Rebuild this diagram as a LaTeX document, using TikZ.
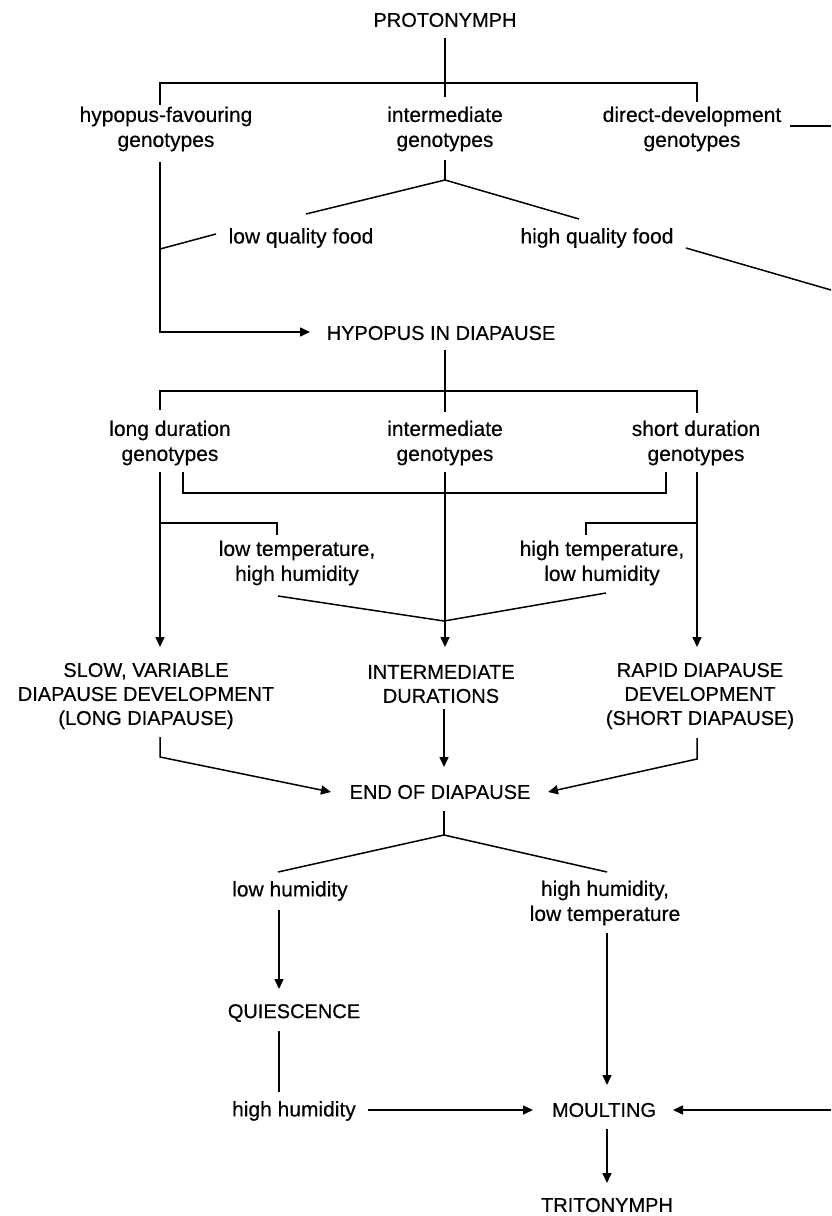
\documentclass[tikz,border=0pt]{standalone}
\usepackage{fontspec}
\setmainfont{Liberation Sans}[FakeBold=0.4]
\usetikzlibrary{arrows.meta}
\begin{document}
\begin{tikzpicture}[x=1pt,y=-1pt,
  line width=1.5pt,
  lbl/.style={inner sep=0pt, align=center, font=\fontsize{21}{25}\selectfont},
  ttl/.style={inner sep=0pt, align=center, font=\fontsize{20}{24}\selectfont},
  arr/.style={-{Triangle[length=10pt,width=9pt]}}
]
\useasboundingbox[fill=white] (0,0) rectangle (831,1216);

% nodes
\node[ttl] (proto) at (445,20) {PROTONYMPH};
\node[lbl] (hyp) at (166,129) {hypopus-favouring\\genotypes};
\node[lbl] (intg) at (445,129) {intermediate\\genotypes};
\node[lbl] (dir) at (692,129) {direct-development\\genotypes};
\node[lbl] (lqf) at (301,238) {low quality food};
\node[lbl] (hqf) at (597,238) {high quality food};
\node[ttl] (hyd) at (441,333) {HYPOPUS IN DIAPAUSE};
\node[lbl] (longd) at (170,443) {long duration\\genotypes};
\node[lbl] (intg2) at (445,443) {intermediate\\genotypes};
\node[lbl] (shortd) at (696,443) {short duration\\genotypes};
\node[lbl] (ltemp) at (297,563) {low temperature,\\high humidity};
\node[lbl] (htemp) at (602,563) {high temperature,\\low humidity};
\node[ttl] (slow) at (146,696) {SLOW, VARIABLE\\DIAPAUSE DEVELOPMENT\\(LONG DIAPAUSE)};
\node[ttl] (intdur) at (441,684) {INTERMEDIATE\\DURATIONS};
\node[ttl] (rapid) at (700,696) {RAPID DIAPAUSE\\DEVELOPMENT\\(SHORT DIAPAUSE)};
\node[ttl] (endd) at (440,792) {END OF DIAPAUSE};
\node[lbl] (lowhum) at (290,891) {low humidity};
\node[lbl] (hhlt) at (605,903) {high humidity,\\low temperature};
\node[ttl] (quies) at (294,1013) {QUIESCENCE};
\node[lbl] (hh) at (294,1111) {high humidity};
\node[ttl] (moult) at (604,1110) {MOULTING};
\node[ttl] (trito) at (607,1205) {TRITONYMPH};

% junction / edge coordinates
\coordinate (j1) at (445,180);
\coordinate (j2) at (444,621);
\coordinate (j3) at (444,835);
\coordinate (edgeA) at (831,126);
\coordinate (edgeB) at (831,290);
\coordinate (edgeC) at (831,1110);

% top split
\draw (445,38) -- (445,97);
\draw (160,105) -- (160,83) -- (697,83) -- (697,102);
\draw (790,126) -- (edgeA);

% hypopus-favouring path
\draw[arr] (160,162) -- (160,332) -- (310,332);
\draw (160,249) -- (216,234);

% intermediate genotypes split
\draw (445,160) -- (j1);
\draw (j1) -- (306,214);
\draw (j1) -- (579,219);
\draw (686,248) -- (edgeB);

% hypopus in diapause split
\draw (445,350) -- (445,412);
\draw (160,410) -- (160,391) -- (697,391) -- (697,413);

% durations
\draw[arr] (160,472) -- (160,647);
\draw[arr] (445,472) -- (445,647);
\draw[arr] (697,472) -- (697,647);
\draw (183,472) -- (183,493) -- (666,493) -- (666,472);
\draw (160,523) -- (277,523) -- (277,535);
\draw (697,523) -- (586,523) -- (586,535);
\draw (278,596) -- (j2) -- (606,593);

% to end of diapause
\draw[arr] (444,709) -- (444,767);
\draw[arr] (160,737) -- (160,757) -- (331,792);
\draw[arr] (697,738) -- (697,759) -- (548,792);

% end of diapause split
\draw (444,811) -- (j3);
\draw (j3) -- (278,872);
\draw (j3) -- (607,872);

% bottom
\draw[arr] (279,910) -- (279,989);
\draw (279,1031) -- (279,1092);
\draw[arr] (368,1110) -- (533,1110);
\draw[arr] (607,933) -- (607,1085);
\draw[arr] (edgeC) -- (673,1110);
\draw[arr] (607,1129) -- (607,1183);
\end{tikzpicture}
\end{document}
